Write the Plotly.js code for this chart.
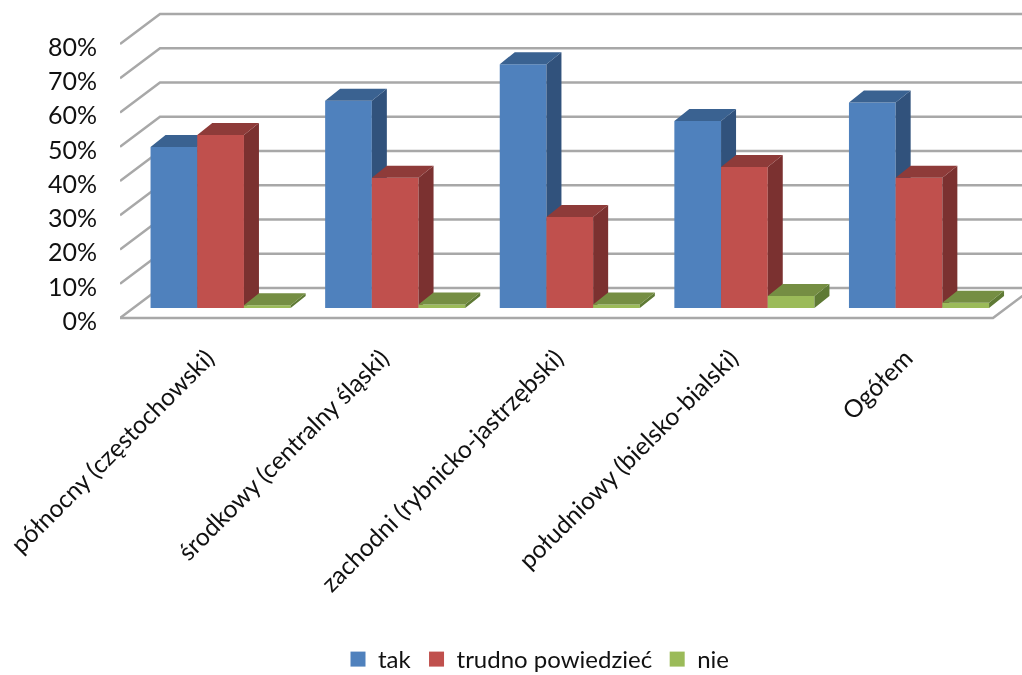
<!DOCTYPE html>
<html><head><meta charset="utf-8">
<script src="https://cdn.plot.ly/plotly-3.0.1.min.js"></script>
<style>html,body{margin:0;padding:0;background:#fff;overflow:hidden;height:675px}#c{width:1022px;height:700px;filter:blur(0.6px)}</style>
</head><body><div id="c"></div>
<script>
const categories = ['północny (częstochowski)','środkowy (centralny śląski)','zachodni (rybnicko-jastrzębski)','południowy (bielsko-bialski)','Ogółem'];
const seriesNames = ['tak','trudno powiedzieć','nie'];
const tak = [47, 60.5, 71.2, 54.6, 60];
const trudno = [50.5, 38, 26.6, 41.2, 38];
const nie = [0.8, 1, 1, 3.5, 1.5];
const yTicks = [0,10,20,30,40,50,60,70,80];
const series = [tak, trudno, nie];
const frontColors = ['#4f81bd','#c0504d','#9bbb59'];
const sideColors = ['#31527c','#7b3130','#5f7a35'];
const topColors = ['#3a6291','#8e3b39','#758e43'];

// oblique projection, in axis units
const FIG_H = 700;
const PX_X = 174.6, PX_Y = 3.425, ZERO_PX = 318;
const X_MAX = 902/PX_X, Y_MAX = ZERO_PX/PX_Y, Y_MIN = -(FIG_H-ZERO_PX)/PX_Y;
const WALL_DX = 40/PX_X, WALL_DY = 30/PX_Y;
const LIFT_DX = 13.3/PX_X, LIFT_DY = 10/PX_Y;
const DEPTH_DX = 15/PX_X, DEPTH_DY = 12/PX_Y;
const BAR_W = 46.7/PX_X;
const GRID = '#a8a8a8';

const traces = [];
const gx = [], gy = [];
yTicks.forEach(t => {
  gx.push(0, WALL_DX, categories.length + WALL_DX, null);
  gy.push(t, t + WALL_DY, t + WALL_DY, null);
});
gx.push(0, categories.length, categories.length + WALL_DX, null);
gy.push(0, 0, WALL_DY, null);
traces.push({type:'scatter',mode:'lines',x:gx,y:gy,line:{color:GRID,width:2.5},showlegend:false,hoverinfo:'skip',cliponaxis:false});

series.forEach((vals, s) => {
  const ax = 'x' + (s + 2), ay = 'y' + (s + 2);
  const left = vals.map((_, i) => i + 0.5 + LIFT_DX + (s - 1.5) * BAR_W);
  traces.push({type:'bar',x:left.map(l => l + BAR_W/2),y:vals,base:LIFT_DY,width:BAR_W,
    marker:{color:frontColors[s],line:{width:0}},name:seriesNames[s],showlegend:false,xaxis:ax,yaxis:ay,cliponaxis:false});
  const sx = [], sy = [], tx = [], ty = [];
  vals.forEach((v, i) => {
    const l = left[i], r = l + BAR_W, b = LIFT_DY, h = LIFT_DY + v;
    sx.push(r, r + DEPTH_DX, r + DEPTH_DX, r, r, null);
    sy.push(b, b + DEPTH_DY, h + DEPTH_DY, h, b, null);
    tx.push(l, r, r + DEPTH_DX, l + DEPTH_DX, l, null);
    ty.push(h, h, h + DEPTH_DY, h + DEPTH_DY, h, null);
  });
  [[sx,sy,sideColors[s]],[tx,ty,topColors[s]]].forEach(p => {
    traces.push({type:'scatter',mode:'lines',x:p[0],y:p[1],fill:'toself',fillcolor:p[2],
      line:{width:0,color:p[2]},showlegend:false,hoverinfo:'skip',xaxis:ax,yaxis:ay,cliponaxis:false});
  });
});
seriesNames.forEach((n, s) => {
  traces.push({type:'scatter',mode:'markers',x:[null],y:[null],name:n,
    marker:{symbol:'square',size:15,color:frontColors[s]},hoverinfo:'skip'});
});

const hiddenX = {overlaying:'x',range:[0,X_MAX],visible:false,fixedrange:true};
const hiddenY = {overlaying:'y',range:[Y_MIN,Y_MAX],visible:false,fixedrange:true};
const layout = {
  width:1022,height:FIG_H,autosize:false,
  margin:{l:120,r:0,t:0,b:0,pad:0},
  paper_bgcolor:'#fff',plot_bgcolor:'rgba(0,0,0,0)',
  font:{family:'Lato, Carlito, sans-serif',size:24,color:'#111'},
  barmode:'overlay',
  showlegend:true,
  legend:{orientation:'h',x:(338-120)/902,xanchor:'left',y:(FIG_H-682)/FIG_H,yanchor:'bottom',
    font:{size:24},bgcolor:'rgba(0,0,0,0)',traceorder:'normal'},
  xaxis:{range:[0,X_MAX],anchor:'free',position:(FIG_H-ZERO_PX)/FIG_H,side:'bottom',tickmode:'array',
    tickvals:categories.map((_,i)=>i+0.5),ticktext:categories,tickangle:-45,tickfont:{size:24.6},ticks:'',showgrid:false,
    zeroline:false,showline:false,fixedrange:true,ticklabelstandoff:20,automargin:false},
  yaxis:{range:[Y_MIN,Y_MAX],tickmode:'array',tickvals:yTicks,ticktext:yTicks.map(t=>t+'%'),
    tickfont:{size:25},ticks:'',showgrid:false,zeroline:false,showline:false,fixedrange:true,
    ticklabelstandoff:22,ticklabelshift:3,automargin:false},
  xaxis2:hiddenX,yaxis2:hiddenY,
  xaxis3:hiddenX,yaxis3:hiddenY,
  xaxis4:hiddenX,yaxis4:hiddenY
};
Plotly.newPlot('c',traces,layout,{displayModeBar:false,staticPlot:true});
</script></body></html>
